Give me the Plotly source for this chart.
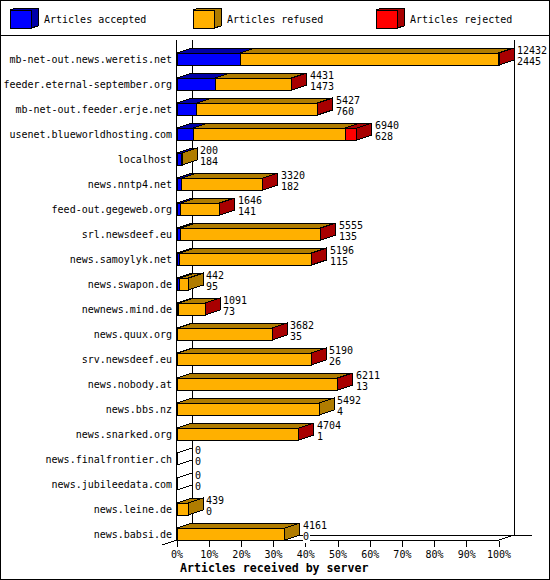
import plotly.graph_objects as go

WIDTH = 550
HEIGHT = 580

servers = ["mb-net-out.news.weretis.net", "feeder.eternal-september.org",
           "mb-net-out.feeder.erje.net", "usenet.blueworldhosting.com", "localhost",
           "news.nntp4.net", "feed-out.gegeweb.org", "srl.newsdeef.eu",
           "news.samoylyk.net", "news.swapon.de", "newnews.mind.de", "news.quux.org",
           "srv.newsdeef.eu", "news.nobody.at", "news.bbs.nz", "news.snarked.org",
           "news.finalfrontier.ch", "news.jubileedata.com", "news.leine.de", "news.babsi.de"]
# upper number beside each bar = bar total, lower number = accepted
offered = [12432, 4431, 5427, 6940, 200, 3320, 1646, 5555, 5196, 442,
           1091, 3682, 5190, 6211, 5492, 4704, 0, 0, 439, 4161]
accepted = [2445, 1473, 760, 628, 184, 182, 141, 135, 115, 95,
            73, 35, 26, 13, 4, 1, 0, 0, 0, 0]
refused = [9971, 2946, 4652, 5860, 16, 3127, 1500, 5406, 5071, 347,
           1012, 3638, 5152, 6178, 5488, 4696, 0, 0, 439, 4161]
rejected = [16, 12, 15, 452, 0, 11, 5, 14, 10, 0,
            6, 9, 12, 20, 0, 7, 0, 0, 0, 0]
percent_ticks = [0, 10, 20, 30, 40, 50, 60, 70, 80, 90, 100]
legend_names = ["Articles accepted", "Articles refused", "Articles rejected"]

BLUE, DARK_BLUE = "#0000ff", "#0000a8"
ORANGE, DARK_ORANGE = "#ffb000", "#b07c00"
RED, DARK_RED = "#ff0000", "#a80000"
FONT = "DejaVu Sans Mono"

# Plot frame in pixels
X0, X100, X_END = 177, 499, 532
Y_TOP, Y_FLOOR = 40, 540
ROW_PX = 25
FIRST_ROW_PX = 59
DEPTH_X_PX, DEPTH_Y_PX = 15, 5
BAR_PX = 12

max_value = max(offered)
px_per_value = (X100 - X0) / max_value
x_range_end = (X_END - X0) / px_per_value
depth_x = DEPTH_X_PX / px_per_value
depth_y = DEPTH_Y_PX / ROW_PX
half_bar = BAR_PX / ROW_PX / 2


def px(x):
    return x / WIDTH


def py(y):
    return 1 - y / HEIGHT


def add_point(face, points):
    for x, y in points:
        face[0].append(x)
        face[1].append(y)
    face[0].append(None)
    face[1].append(None)


rows = list(range(len(servers)))
fig = go.Figure()

for values, color in [(accepted, BLUE), (refused, ORANGE), (rejected, RED)]:
    fig.add_trace(go.Bar(y=rows, x=values, orientation="h", width=BAR_PX / ROW_PX,
                         marker=dict(color=color, line=dict(color="black", width=1)),
                         showlegend=False, hoverinfo="skip"))

# Top and side faces of the 3D bars
top_faces = {DARK_BLUE: ([], []), DARK_ORANGE: ([], []), DARK_RED: ([], [])}
side_faces = {DARK_ORANGE: ([], []), DARK_RED: ([], [])}
empty_edges = ([], [])

for i in rows:
    top = i - half_bar
    bottom = i + half_bar
    if offered[i] == 0:
        add_point(empty_edges, [(0, top), (depth_x, top - depth_y)])
        add_point(empty_edges, [(0, bottom), (depth_x, bottom - depth_y)])
        continue
    start = 0
    for value, color in [(accepted[i], DARK_BLUE), (refused[i], DARK_ORANGE), (rejected[i], DARK_RED)]:
        if value > 0:
            add_point(top_faces[color], [(start, top), (start + value, top),
                                         (start + value + depth_x, top - depth_y),
                                         (start + depth_x, top - depth_y), (start, top)])
        start += value
    side_color = DARK_RED if rejected[i] > 0 else DARK_ORANGE
    add_point(side_faces[side_color], [(start, top), (start + depth_x, top - depth_y),
                                       (start + depth_x, bottom - depth_y),
                                       (start, bottom), (start, top)])

for faces in (top_faces, side_faces):
    for color, (xs, ys) in faces.items():
        fig.add_trace(go.Scatter(x=xs, y=ys, mode="lines", fill="toself", fillcolor=color,
                                 line=dict(color="black", width=1),
                                 showlegend=False, hoverinfo="skip"))
fig.add_trace(go.Scatter(x=empty_edges[0], y=empty_edges[1], mode="lines",
                         line=dict(color="black", width=1),
                         showlegend=False, hoverinfo="skip"))

# Numbers beside the bars, lower one first so it can hide the floor line
annotations = []
for i in rows:
    annotations.append(dict(x=offered[i] + depth_x + 2 / px_per_value, y=i + 2 / ROW_PX,
                            xref="x", yref="y", text=str(accepted[i]), showarrow=False,
                            xanchor="left", yanchor="middle", bgcolor="white", borderpad=0,
                            font=dict(family=FONT, size=10, color="black")))
for i in rows:
    annotations.append(dict(x=offered[i] + depth_x + 2 / px_per_value, y=i - 9 / ROW_PX,
                            xref="x", yref="y", text=str(offered[i]), showarrow=False,
                            xanchor="left", yanchor="middle", borderpad=0,
                            font=dict(family=FONT, size=10, color="black")))

shapes = [
    dict(type="rect", x0=px(0.5), x1=px(549.5), y0=py(0.5), y1=py(579.5)),
    dict(type="line", x0=px(0), x1=px(550), y0=py(35), y1=py(35)),
    # walls and floor
    dict(type="line", x0=px(X0 + 15), x1=px(X0 + 15), y0=py(Y_TOP), y1=py(Y_FLOOR - 5), layer="below"),
    dict(type="line", x0=px(X100 + 15), x1=px(X100 + 15), y0=py(Y_TOP), y1=py(Y_FLOOR - 5), layer="below"),
    dict(type="line", x0=px(X0), x1=px(X100), y0=py(Y_FLOOR), y1=py(Y_FLOOR), layer="below"),
    dict(type="line", x0=px(X0 + 15), x1=px(X_END), y0=py(Y_FLOOR - 5), y1=py(Y_FLOOR - 5), layer="below"),
    dict(type="line", x0=px(X0 - 15), x1=px(X0 + 15), y0=py(Y_FLOOR + 5), y1=py(Y_FLOOR - 5), layer="below"),
    dict(type="line", x0=px(X100), x1=px(X100 + 15), y0=py(Y_FLOOR), y1=py(Y_FLOOR - 5), layer="below"),
]

# Legend with small 3D boxes
legend_colors = [(BLUE, DARK_BLUE), (ORANGE, DARK_ORANGE), (RED, DARK_RED)]
legend_x = [10, 193, 376]
for name, (front, dark), x in zip(legend_names, legend_colors, legend_x):
    shapes.append(dict(type="path", fillcolor=dark,
                       path=f"M {px(x)} {py(10)} L {px(x + 6)} {py(8)} L {px(x + 28)} {py(8)} "
                            f"L {px(x + 28)} {py(26)} L {px(x + 21)} {py(28)} Z"))
    shapes.append(dict(type="rect", x0=px(x), x1=px(x + 21), y0=py(10), y1=py(28), fillcolor=front))
    annotations.append(dict(x=px(x + 32), y=py(20), xref="paper", yref="paper", text=name,
                            showarrow=False, xanchor="left", yanchor="middle",
                            font=dict(family=FONT, size=10, color="black")))

annotations.append(dict(x=px(274), y=py(567.5), xref="paper", yref="paper",
                        text="<b>Articles received by server</b>", showarrow=False,
                        xanchor="center", yanchor="middle",
                        font=dict(family=FONT, size=11.6, color="black")))

for shape in shapes:
    shape.setdefault("xref", "paper")
    shape.setdefault("yref", "paper")
    shape["line"] = dict(color="black", width=1)

fig.update_layout(
    width=WIDTH, height=HEIGHT, barmode="stack",
    margin=dict(l=0, r=0, t=0, b=0, pad=0, autoexpand=False),
    paper_bgcolor="white", plot_bgcolor="rgba(0,0,0,0)",
    font=dict(family=FONT, size=10, color="black"),
    xaxis=dict(domain=[px(X0), px(X_END)], range=[0, x_range_end], showgrid=False,
               zeroline=False, showline=False, ticks="outside", ticklen=6, tickwidth=1,
               tickcolor="black", tickvals=[p * max_value / 100 for p in percent_ticks],
               ticktext=[f"{p}%" for p in percent_ticks], ticklabelstandoff=-1,
               tickfont=dict(family=FONT, size=10)),
    yaxis=dict(domain=[py(Y_FLOOR), py(Y_TOP)],
               range=[(Y_FLOOR - FIRST_ROW_PX) / ROW_PX, (Y_TOP - FIRST_ROW_PX) / ROW_PX],
               showgrid=False, zeroline=False, showline=True, linecolor="black", linewidth=1,
               ticks="", tickvals=rows, ticktext=servers, ticklabelstandoff=2,
               tickfont=dict(family=FONT, size=10)),
    shapes=shapes, annotations=annotations,
)

page_style = """
var s = document.createElement('style');
s.textContent = 'body{margin:0;overflow:hidden} .main-svg path,.main-svg rect,.main-svg line{shape-rendering:crispEdges}';
document.head.appendChild(s);
"""
fig.write_html("out.html", config={"displayModeBar": False}, post_script=page_style)
